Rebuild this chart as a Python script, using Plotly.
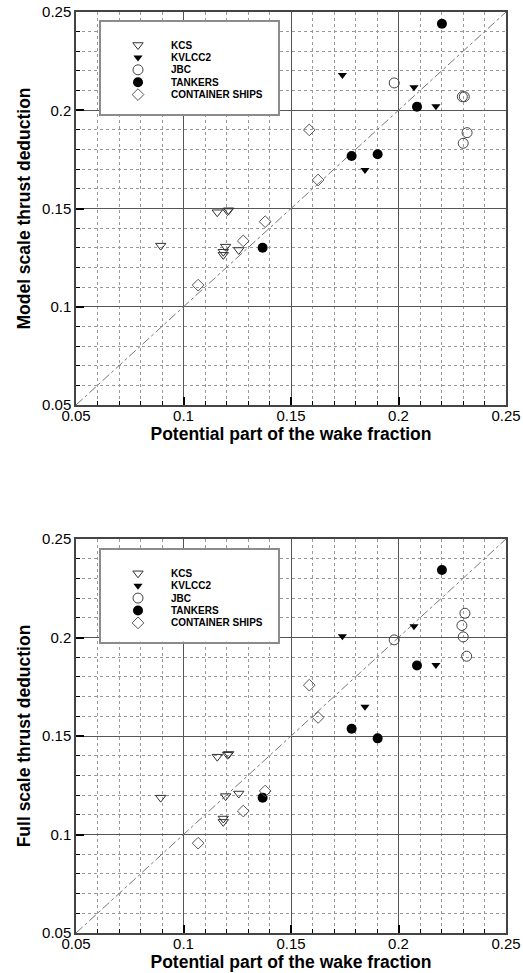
import plotly.graph_objects as go

# ---------------- data ----------------
tick_vals = [0.05, 0.1, 0.15, 0.2, 0.25]
tick_text = ["0.05", "0.1", "0.15", "0.2", "0.25"]
axis_range = [0.05, 0.25]

series_names = ["KCS", "KVLCC2", "JBC", "TANKERS", "CONTAINER SHIPS"]

# potential part of the wake fraction (x), shared by both panels
kcs_wp = [0.0894, 0.1157, 0.1205, 0.1210, 0.1196, 0.1185, 0.1185, 0.1257]
kvlcc2_wp = [0.1739, 0.2072, 0.2174, 0.1844]
jbc_wp_model = [0.1980, 0.2297, 0.2306, 0.2319, 0.2301]
jbc_wp_full = [0.1980, 0.2309, 0.2295, 0.2301, 0.2317]
tankers_wp = [0.2202, 0.2086, 0.1782, 0.1903, 0.1368]
container_wp = [0.1585, 0.1626, 0.1380, 0.1278, 0.1068]

# model scale thrust deduction
kcs_t_model = [0.1311, 0.1481, 0.1487, 0.1491, 0.1306, 0.1280, 0.1264, 0.1289]
kvlcc2_t_model = [0.2179, 0.2117, 0.2020, 0.1696]
jbc_t_model = [0.2139, 0.2069, 0.2069, 0.1886, 0.1832]
tankers_t_model = [0.2440, 0.2018, 0.1767, 0.1776, 0.1300]
container_t_model = [0.1900, 0.1645, 0.1433, 0.1335, 0.1110]

# full scale thrust deduction
kcs_t_full = [0.1187, 0.1395, 0.1405, 0.1409, 0.1195, 0.1081, 0.1064, 0.1208]
kvlcc2_t_full = [0.2006, 0.2057, 0.1860, 0.1649]
jbc_t_full = [0.1988, 0.2123, 0.2061, 0.2003, 0.1905]
tankers_t_full = [0.2343, 0.1858, 0.1537, 0.1488, 0.1187]
container_t_full = [0.1758, 0.1594, 0.1221, 0.1119, 0.0956]

x_title = "Potential part of the wake fraction"
y_title_model = "Model scale thrust deduction"
y_title_full = "Full scale thrust deduction"

# ---------------- styles ----------------
styles = {
    "KCS": dict(symbol="triangle-down-open", size=9, color="#333333", line=dict(width=1, color="#333333")),
    "KVLCC2": dict(symbol="triangle-down", size=8, color="#000000", line=dict(width=0)),
    "JBC": dict(symbol="circle-open", size=10, color="#444444", line=dict(width=1, color="#444444")),
    "TANKERS": dict(symbol="circle", size=10, color="#000000", line=dict(width=0)),
    "CONTAINER SHIPS": dict(symbol="diamond-open", size=9, color="#555555", line=dict(width=1, color="#555555")),
}

W, H = 523, 973
FONT = "Arial, Liberation Sans, Helvetica, sans-serif"

fig = go.Figure()

panels = [
    ("x", "y", [kcs_t_model, kvlcc2_t_model, jbc_t_model, tankers_t_model, container_t_model], jbc_wp_model),
    ("x2", "y2", [kcs_t_full, kvlcc2_t_full, jbc_t_full, tankers_t_full, container_t_full], jbc_wp_full),
]

for xa, ya, ys, jbc_x in panels:
    # 1:1 reference line
    fig.add_trace(go.Scatter(x=axis_range, y=axis_range, mode="lines",
                             line=dict(color="#777777", width=1, dash="dashdot"),
                             xaxis=xa, yaxis=ya, showlegend=False, hoverinfo="skip"))
    xs = [kcs_wp, kvlcc2_wp, jbc_x, tankers_wp, container_wp]
    for name, xv, yv in zip(series_names, xs, ys):
        fig.add_trace(go.Scatter(x=xv, y=yv, mode="markers", name=name,
                                 marker=styles[name], xaxis=xa, yaxis=ya,
                                 showlegend=False))

# ---------------- layout ----------------
def px_x(p):
    return p / W

def px_y(p):
    return 1 - p / H

plot_left, plot_right = 76, 506
top_panel = (12, 405)
bot_panel = (539, 933)

common_axis = dict(
    range=axis_range, autorange=False,
    tickvals=tick_vals, ticktext=tick_text,
    ticks="inside", ticklen=8, tickwidth=2, tickcolor="#000000",
    showline=True, linecolor="#444444", linewidth=1.5, mirror=True,
    showgrid=True, gridcolor="#555555", gridwidth=1.2,
    zeroline=False,
    tickfont=dict(family=FONT, size=15, color="#000000"),
    minor=dict(dtick=0.01, tick0=0.05, ticks="inside", ticklen=4, tickwidth=1,
               tickcolor="#000000", showgrid=True, gridcolor="#999999",
               griddash="dot", gridwidth=1),
    automargin=False,
)

title_font = dict(family=FONT, size=17.5, color="#000000")

layout = dict(
    width=W, height=H,
    margin=dict(l=0, r=0, t=0, b=0),
    paper_bgcolor="white", plot_bgcolor="white",
    showlegend=False,
    xaxis=dict(common_axis, domain=[px_x(plot_left), px_x(plot_right)], anchor="y",
               ticklabelstandoff=-4,
               title=dict(text="<b>%s</b>" % x_title, font=title_font, standoff=3)),
    yaxis=dict(common_axis, domain=[px_y(top_panel[1]), px_y(top_panel[0])], anchor="x",
               title=dict(text="<b>%s</b>" % y_title_model, font=title_font, standoff=7)),
    xaxis2=dict(common_axis, domain=[px_x(plot_left), px_x(plot_right)], anchor="y2",
                ticklabelstandoff=-4,
                title=dict(text="<b>%s</b>" % x_title, font=title_font, standoff=2)),
    yaxis2=dict(common_axis, domain=[px_y(bot_panel[1]), px_y(bot_panel[0])], anchor="x2",
                title=dict(text="<b>%s</b>" % y_title_full, font=title_font, standoff=7)),
)

# ---------------- manual legends (inset axes) ----------------
legend_left, legend_right = 100.7, 278
legend_boxes = [(21.7, 114, "x3", "y3", "xaxis3", "yaxis3"),
                (550, 641.7, "x4", "y4", "xaxis4", "yaxis4")]
row_gap = 12.4
first_row_offset = 23.3  # px from box top to first row centre
marker_offset = 37.3
text_offset = 68.6

annotations = []
for top, bottom, xr, yr, xk, yk in legend_boxes:
    box_h = bottom - top
    box_w = legend_right - legend_left
    y_top = -first_row_offset / row_gap
    y_bot = y_top + box_h / row_gap
    layout[xk] = dict(domain=[px_x(legend_left), px_x(legend_right)], anchor=yr,
                      range=[0, box_w], autorange=False, showgrid=False, zeroline=False,
                      showticklabels=False, ticks="", showline=True, linecolor="#8c8c8c",
                      linewidth=2, mirror=True, fixedrange=True)
    layout[yk] = dict(domain=[px_y(bottom), px_y(top)], anchor=xr,
                      range=[y_bot, y_top], autorange=False, showgrid=False, zeroline=False,
                      showticklabels=False, ticks="", showline=True, linecolor="#8c8c8c",
                      linewidth=2, mirror=True, fixedrange=True)
    for i, name in enumerate(series_names):
        fig.add_trace(go.Scatter(x=[marker_offset], y=[i], mode="markers",
                                 marker=styles[name], xaxis=xr, yaxis=yr,
                                 showlegend=False, hoverinfo="skip"))
        annotations.append(dict(x=text_offset, y=i, xref=xr, yref=yr, text="<b>%s</b>" % name,
                                showarrow=False, xanchor="left", yanchor="middle",
                                font=dict(family=FONT, size=10, color="#000000")))

layout["annotations"] = annotations
fig.update_layout(**layout)

fig.write_html("out.html")
